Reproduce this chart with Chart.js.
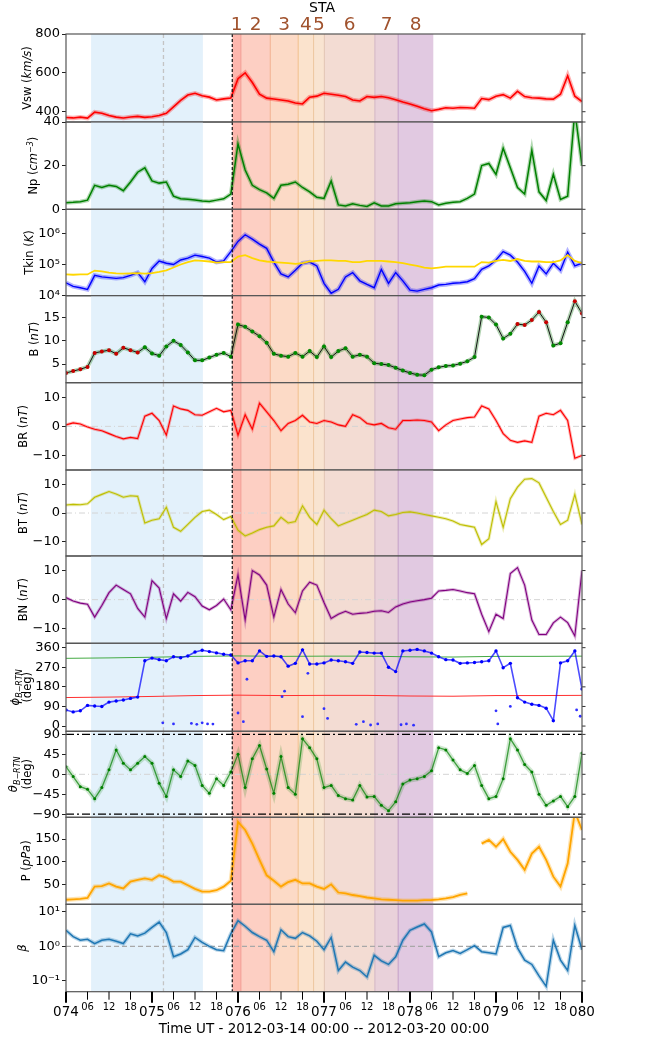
<!DOCTYPE html>
<html lang="en">
<head>
<meta charset="UTF-8">
<title>STA</title>
<script src="https://cdn.jsdelivr.net/npm/chart.js"></script>
<style>
  html, body { margin: 0; padding: 0; background: #fff; }
  #wrap { position: relative; width: 647px; height: 1041px; overflow: hidden; }
  #wrap canvas { position: absolute; left: 0; }
</style>
</head>
<body>
<div id="wrap"></div>
<script>
// hours since 2012-03-14 00:00 (DOY 074), one value every 2 h
const hours = [0,2,4,6,8,10,12,14,16,18,20,22,24,26,28,30,32,34,36,38,40,42,44,46,48,50,52,54,56,58,60,62,64,66,68,70,72,74,76,78,80,82,84,86,88,90,92,94,96,98,100,102,104,106,108,110,112,114,116,118,120,122,124,126,128,130,132,134,136,138,140,142,144];

const vsw = [370,368,372,367,398,392,380,372,368,373, 376,371,374,380,392,425,458,486,495,482,
  475,460,466,470,570,600,550,490,470,465, 460,455,445,440,475,480,495,490,485,478,
  460,455,478,474,478,472,462,450,440,428, 415,405,412,420,418,422,420,418,468,462,
  480,488,470,505,478,472,470,466,465,490, 585,480,452];

const np = [3,3.2,3.5,4.2,11,10,11,10.5,8.5,12.5, 17,19,13,12,12.5,6,4.8,4.6,4.3,3.8,
  3.6,4.2,4.8,7,30,18,11,9,7.5,5, 11,11.5,12.5,10,8,5.5,5,13,2,1.5,
  2.5,1.8,1.3,3,1.5,1.5,2.5,2.8,3,3.5, 3.8,3.5,2,2.8,3.2,3.5,5,7,20,21,
  16,28,19,10,7,27,8,4,16,4.5, 6,45,20];

const tkinObs = [2.6e4,2.0e4,1.8e4,1.6e4,4.5e4,4.0e4,3.8e4,3.6e4,3.8e4,4.5e4,
  5.5e4,2.8e4,7.5e4,1.3e5,1.1e5,1.0e5,1.4e5,1.6e5,2.0e5,1.8e5,
  1.6e5,1.2e5,1.3e5,2.6e5,5.5e5,9e5,6.5e5,4.5e5,3.3e5,1.2e5,
  5e4,4e4,6.5e4,1.1e5,1.2e5,9e4,2.5e4,1.2e4,1.6e4,4e4,
  5.5e4,3e4,2.3e4,1.8e4,7e4,2.5e4,5.5e4,3e4,1.5e4,1.4e4,
  1.6e4,1.8e4,2.2e4,2.3e4,2.5e4,2.6e4,2.8e4,3.5e4,7e4,9e4,
  1.4e5,2.6e5,2e5,1.2e5,6e4,2.5e4,9e4,5e4,1.1e5,6.5e4,
  2.5e5,9e4,1.1e5];

const tkinExp = [4.8e4,4.7e4,4.8e4,4.8e4,6.4e4,6e4,5.5e4,5.2e4,5.1e4,5.2e4,
  5.3e4,5.1e4,5.3e4,5.8e4,6.5e4,8e4,1.0e5,1.2e5,1.35e5,1.3e5,
  1.25e5,1.15e5,1.2e5,1.2e5,1.8e5,2e5,1.6e5,1.35e5,1.25e5,1.2e5,
  1.15e5,1.1e5,1.05e5,1.1e5,1.25e5,1.3e5,1.35e5,1.35e5,1.3e5,1.3e5,
  1.2e5,1.2e5,1.3e5,1.3e5,1.3e5,1.25e5,1.2e5,1.1e5,1.0e5,9e4,
  8e4,7.5e4,8e4,8.5e4,8.5e4,8.5e4,8.5e4,8.5e4,1.2e5,1.15e5,
  1.3e5,1.4e5,1.3e5,1.5e5,1.3e5,1.25e5,1.25e5,1.2e5,1.2e5,1.35e5,
  2e5,1.3e5,1.1e5];

const bMag = [3.1,3.5,3.9,4.4,7.4,7.7,8.0,7.2,8.5,8.0, 7.5,8.6,7.3,6.8,8.8,10.0,9.1,7.5,5.8,5.8,
  6.4,7.0,7.4,6.6,13.5,13.0,12.0,11.0,9.6,7.2, 6.8,6.6,7.4,6.6,7.8,6.5,8.8,6.5,7.8,8.4,
  6.6,7.0,6.6,5.2,5.0,4.8,4.2,3.6,3.1,2.7, 2.6,3.8,4.3,4.6,4.7,5.1,5.6,6.5,15.2,15.0,
  13.5,10.5,11.5,13.6,13.4,14.5,16.2,14.0,9.0,9.5, 14.0,18.5,15.9];

// field polarity of each B sample: r = outward (red dots), g = inward (green dots)
const bPolarity = ['r','r','r','r','r','r','r','r','r','r', 'r','g','g','g','g','g','g','g','g','g',
  'g','g','g','g','g','g','g','g','g','g', 'g','g','g','g','g','g','g','g','g','g',
  'g','g','g','g','g','g','g','g','g','g', 'g','g','g','g','g','g','g','g','g','g',
  'g','g','g','r','r','r','r','r','g','g', 'g','r','r'];

const bR = [0.5,1.2,0.8,-0.2,-1.0,-1.5,-2.5,-3.5,-4.3,-3.8, -4.2,3.5,4.5,2.0,-3.0,7.0,6.0,5.5,4.0,3.8,
  5.0,6.2,5.0,5.5,-3.0,4.0,-1.0,8.0,5.0,2.0, -1.5,1.0,2.0,3.8,1.5,1.0,2.0,1.5,0.5,0.0,
  4.0,3.0,1.0,0.5,1.0,-0.5,-1.0,2.0,2.0,2.2, 2.0,1.5,-1.5,0.5,2.0,2.5,3.0,3.2,7.0,6.0,
  2.0,-2.5,-4.8,-5.5,-5.0,-5.5,3.5,4.5,4.0,5.5, 2.0,-11,-10];

const bT = [2.8,3.0,2.9,3.2,5.5,6.5,7.5,6.6,5.5,6.0, 5.8,-3.5,-2.5,-2.0,2.0,-5.0,-6.4,-4.0,-1.5,0.5,
  1.0,-0.5,-2.3,-1.2,-6.0,-8.0,-7.0,-5.8,-5.0,-4.5, -1.5,-3.5,-3.0,2.5,-1.5,-4.0,1.0,-2.0,-4.5,-3.5,
  -2.5,-1.5,-0.5,1.0,0.5,-1.0,-0.5,0.2,0.4,0.0, -0.5,-1.0,-1.5,-2.0,-2.8,-4.0,-4.5,-5.0,-11,-9,
  4,-5,5,9,11.8,12.0,10.5,5.5,0.5,-4.0, -2.5,6.5,-4];

const bN = [0.7,-0.5,-1.2,-1.6,-6.0,-2.0,2.4,5.0,3.5,2.0, -3.0,-6.0,6.5,4.0,-6.5,2.0,-0.5,2.5,1.0,-2.2,
  -3.5,-2.0,0.2,-3.5,8.5,-7.0,10.0,8.5,5.0,-6.0, 3.5,-1.5,-4.5,3.0,6.0,5.0,-1.0,-6.5,-5.0,-4.0,
  -5.0,-4.7,-4.5,-4.0,-3.8,-4.4,-2.5,-1.5,-0.8,-0.4, 0.0,0.5,3.0,3.2,3.5,3.0,2.4,2.0,-5.0,-11.0,
  -5.0,-6.5,9.0,11.0,5.0,-7.0,-12.0,-12.0,-8.0,-6.0, -7.9,-12.5,10.0];

// main phi band; isolated excursions are listed separately below
const phiB = [74,65,70,95,92,90,110,115,120,127, 133,300,312,305,300,318,314,322,340,348,
  342,336,330,326,290,300,300,345,320,322, 318,275,288,350,285,285,290,303,300,295,
  288,340,338,335,335,270,250,345,348,352, 345,335,318,305,303,288,290,292,295,300,
  345,268,288,130,110,100,95,82,25,290, 300,345,170];

// scattered phi samples (excursions, and points wrapping through 0 deg)
const phiLowHours = [27,30,35,36.5,38,39.5,41,48,49.5,50.5,60.3,61,66,67.5,72,73,81,83,85,87,93.5,95,97,120,120.5,124,142.5,143.5];
const phiLow = [15,10,12,8,15,10,9,60,20,215,135,160,43,242,80,35,8,20,5,10,6,10,4,70,10,90,74,45];

// nominal Parker spiral directions
const parkerHours = [0,12,24,36,48,60,72,84,96,108,120,132,144];
const parkerAway = [311,313,316,320,322,320,321,321,318,317,320,320,321];
const parkerToward = [131,133,136,140,142,140,141,141,138,137,140,140,141];

const thetaB = [17,-5,-28,-34,-55,-30,10,55,25,10, 25,40,25,-20,-50,10,-5,30,20,-25,
  -43,-10,-25,5,45,-30,35,65,12,-43, 40,-30,-45,80,60,35,-30,-25,-48,-55,
  -58,-25,-51,-50,-70,-82,-62,-22,-13,-10, -5,8,60,55,32,10,2,20,-25,-55,
  -50,-10,80,55,22,5,-45,-70,-60,-50, -73,-50,48];

const pDyn = [16,17,18,20,45,46,52,45,41,56, 60,63,60,70,65,56,56,48,40,34,
  34,37,45,58,188,170,140,104,70,58, 45,55,60,52,52,45,40,50,32,30,
  26.5,24,21,19,17,16,15,14,14,14, 15,15.5,17,19,22,27,30,null,140,148,
  133,150,122,104,82,118,133,104,67,45, 96,210,170];

const beta = [2.9,1.9,1.5,1.6,1.2,1.5,1.6,1.4,1.2,2.3, 2.0,2.4,3.5,5.0,2.5,0.5,0.6,0.8,1.8,1.3,
  1.0,0.8,0.75,2.3,5.5,3.8,2.5,1.9,1.5,0.7, 3.0,1.9,1.7,2.5,2.0,1.4,0.8,1.8,0.2,0.35,
  0.25,0.2,0.13,0.55,0.38,0.3,0.5,1.5,2.9,3.6, 4.4,2.6,0.5,0.65,0.75,0.62,0.8,1.05,0.7,0.65,
  0.6,3.5,4.0,0.9,0.4,0.3,0.14,0.07,1.5,0.4, 0.2,4.0,0.8];

// event times (hours): shock, then boundaries of intervals 1..8
const quietInterval = [7.0, 38.2];
const dashedHour = 27.2;
const eventHours = [46.4, 48.8, 57.0, 64.8, 69.1, 72.1, 86.2, 92.7, 102.5];
const eventLabels = ['1','2','3','4','5','6','7','8'];

// tick values and labels
const vswTicks = [400, 600, 800];
const npTicks = [0, 20, 40];
const tkinTicks = [1e4, 1e5, 1e6];
const tkinLabels = ['10⁴', '10⁵', '10⁶'];
const bTicks = [5, 10, 15];
const compTicks = [-10, 0, 10];
const compLabels = ['−10', '0', '10'];
const phiTicks = [0, 90, 180, 270, 360];
const thetaTicks = [-90, -45, 0, 45, 90];
const thetaLabels = ['−90', '−45', '0', '45', '90'];
const pTicks = [50, 100, 150];
const betaTicks = [0.1, 1, 10];
const betaLabels = ['10⁻¹', '10⁰', '10¹'];
const axisHours = [0,6,12,18,24,30,36,42,48,54,60,66,72,78,84,90,96,102,108,114,120,126,132,138,144];
const axisLabels = ['074','06','12','18','075','06','12','18','076','06','12','18','077','06','12','18','078','06','12','18','079','06','12','18','080'];

// ---------------------------------------------------------------
const FONT = '"DejaVu Sans", "Liberation Sans", sans-serif';
const panelTop = [34, 122, 209.3, 295.7, 382.7, 470, 556, 643.3, 731.3, 817.3, 904.3, 991.7];
const regionFill = ['#fdb6ad', '#fdcfc3', '#fcdac6', '#fbe3cd', '#f9e4d1', '#f3dcd3', '#e9d1da', '#e1c9e1'];
const regionEdge = [null, '#f29c92', '#f2b08e', '#f2bf8c', '#eec79e', '#e2c5b3', '#d2b5c2', '#c39ec6'];

const pts = (vals, xs) => (xs || hours).map((h, i) => ({x: h, y: vals[i]}));

function line(vals, color, width, extra) {
  return Object.assign({data: pts(vals), borderColor: color, backgroundColor: color,
    borderWidth: width, pointRadius: 0, fill: false}, extra || {});
}

// thin core line plus a wide faint band, like a noisy 1-min trace
function noisy(vals, rgb, width, band) {
  return [line(vals, 'rgb(' + rgb + ')', width),
          line(vals, 'rgba(' + rgb + ',0.3)', band)];
}

function drawRich(ctx, lines, cx, cy, lh) {
  ctx.save();
  ctx.translate(cx, cy);
  ctx.rotate(-Math.PI / 2);
  ctx.fillStyle = '#000';
  ctx.textBaseline = 'alphabetic';
  const fontOf = s => (s.i ? 'italic ' : '') + (s.sub || s.sup ? '8px ' : '11.5px ') + FONT;
  lines.forEach((segs, li) => {
    let w = 0;
    segs.forEach(s => { ctx.font = fontOf(s); w += ctx.measureText(s.t).width; });
    let u = -w / 2;
    const v = (li - (lines.length - 1) / 2) * lh + 4;
    segs.forEach(s => {
      ctx.font = fontOf(s);
      ctx.fillText(s.t, u, v + (s.sub ? 3 : s.sup ? -4.5 : 0));
      u += ctx.measureText(s.t).width;
    });
  });
  ctx.restore();
}

function vline(ctx, x, a, h, color, width, dash) {
  const px = x.getPixelForValue(h);
  ctx.save();
  ctx.strokeStyle = color; ctx.lineWidth = width; ctx.setLineDash(dash || []);
  ctx.beginPath(); ctx.moveTo(px, a.top); ctx.lineTo(px, a.bottom); ctx.stroke();
  ctx.restore();
}

function decor(spec) {
  return {
    id: 'decor',
    beforeDatasetsDraw(chart) {
      const {ctx, chartArea: a, scales: {x, y}} = chart;
      ctx.save();
      ctx.beginPath(); ctx.rect(a.left, a.top, a.right - a.left, a.bottom - a.top); ctx.clip();
      const span = (h0, h1, c) => {
        const x0 = x.getPixelForValue(h0), x1 = x.getPixelForValue(h1);
        ctx.fillStyle = c; ctx.fillRect(x0, a.top, x1 - x0, a.bottom - a.top);
      };
      span(quietInterval[0], quietInterval[1], '#e3f1fb');
      for (let k = 0; k < regionFill.length; k++) span(eventHours[k], eventHours[k + 1], regionFill[k]);
      for (let k = 1; k < regionEdge.length; k++) vline(ctx, x, a, eventHours[k], regionEdge[k], 1);
      vline(ctx, x, a, dashedHour, '#c4c4c4', 1.3, [4, 3]);
      (spec.refs || []).forEach(r => {
        const py = y.getPixelForValue(r.v);
        ctx.save();
        ctx.strokeStyle = r.color; ctx.lineWidth = r.width || 1; ctx.setLineDash(r.dash || []);
        ctx.beginPath(); ctx.moveTo(a.left, py); ctx.lineTo(a.right, py); ctx.stroke();
        ctx.restore();
      });
      ctx.restore();
    },
    afterDatasetsDraw(chart) {
      const {ctx, chartArea: a, scales: {x, y}} = chart;
      vline(ctx, x, a, eventHours[0], '#111', 1.2, [3, 2]);
      ctx.save();
      // right-hand ticks
      ctx.strokeStyle = '#333'; ctx.lineWidth = 1;
      spec.ticks.forEach(t => {
        const py = y.getPixelForValue(t);
        ctx.beginPath(); ctx.moveTo(a.right, py); ctx.lineTo(a.right + 3.5, py); ctx.stroke();
      });
      // frame
      ctx.strokeStyle = '#555'; ctx.lineWidth = 1.2;
      ctx.strokeRect(a.left, a.top, a.right - a.left, a.bottom - a.top);
      ctx.restore();
      drawRich(ctx, spec.title, spec.titleX, (a.top + a.bottom) / 2, spec.titleGap || 13);
      if (spec.extra) spec.extra(chart);
    }
  };
}

function makePanel(i, spec) {
  const top = panelTop[i], bot = panelTop[i + 1];
  const cTop = i === 0 ? 0 : Math.floor(top - 10);
  const cBot = i === 10 ? 1041 : Math.ceil(bot + 10);
  const cv = document.createElement('canvas');
  cv.width = 647; cv.height = cBot - cTop;
  cv.style.top = cTop + 'px';
  document.getElementById('wrap').appendChild(cv);
  return new Chart(cv, {
    type: 'line',
    data: {datasets: spec.datasets},
    options: {
      responsive: false, animation: false, devicePixelRatio: 1,
      layout: {padding: {top: top - cTop, bottom: cBot - bot, left: 0, right: 65}},
      plugins: {legend: {display: false}, tooltip: {enabled: false}},
      elements: {line: {tension: 0}},
      scales: {
        x: {type: 'linear', min: 0, max: 144, display: false},
        y: {
          type: spec.log ? 'logarithmic' : 'linear',
          min: spec.min, max: spec.max,
          afterFit: s => { s.width = 66; },
          afterBuildTicks: s => { s.ticks = spec.ticks.map(v => ({value: v})); },
          ticks: {
            autoSkip: false, padding: 2, color: '#000',
            font: {family: FONT, size: 13},
            callback: (v, idx) => spec.labels ? spec.labels[idx] : String(spec.ticks[idx])
          },
          grid: {drawOnChartArea: false, tickLength: 4, tickColor: '#222', tickWidth: 1},
          border: {display: false}
        }
      }
    },
    plugins: [decor(spec)]
  });
}

const zeroRef = {v: 0, color: '#d4d4d4', width: 1, dash: [6, 3, 1, 3]};

// 1 Vsw
makePanel(0, {
  min: 347, max: 800, ticks: vswTicks, titleX: 27,
  title: [[{t: 'Vsw ('}, {t: 'km/s', i: 1}, {t: ')'}]],
  datasets: noisy(vsw, '255,0,0', 1.6, 4.5),
  extra: chart => {
    const {ctx, scales: {x}} = chart;
    ctx.save();
    ctx.fillStyle = '#000'; ctx.textAlign = 'center'; ctx.textBaseline = 'middle';
    ctx.font = '14px ' + FONT;
    ctx.fillText('STA', 322, 8.5);
    ctx.fillStyle = '#a0522d'; ctx.font = '18.5px ' + FONT;
    eventLabels.forEach((lab, k) => {
      const px = (x.getPixelForValue(eventHours[k]) + x.getPixelForValue(eventHours[k + 1])) / 2;
      ctx.fillText(lab, px, 25);
    });
    ctx.restore();
  }
});

// 2 Np
makePanel(1, {
  min: 0, max: 40, ticks: npTicks, titleX: 33,
  title: [[{t: 'Np ('}, {t: 'cm', i: 1}, {t: '−3', i: 1, sup: 1}, {t: ')'}]],
  datasets: noisy(np, '0,128,0', 1.5, 4)
});

// 3 Tkin
makePanel(2, {
  log: true, min: 1e4, max: 5.9e6, ticks: tkinTicks, labels: tkinLabels, titleX: 29,
  title: [[{t: 'Tkin ('}, {t: 'K', i: 1}, {t: ')'}]],
  datasets: [line(tkinExp, '#ffd700', 1.8)].concat(noisy(tkinObs, '0,0,255', 1.4, 4.5)),
  extra: chart => {
    const ctx = chart.ctx;
    ctx.save();
    ctx.font = '8px ' + FONT; ctx.textBaseline = 'middle'; ctx.fillStyle = '#222';
    ctx.lineWidth = 1;
    ctx.strokeStyle = '#6a6aff';
    ctx.beginPath(); ctx.moveTo(588, 215); ctx.lineTo(603, 215); ctx.stroke();
    ctx.fillText('Obs. Tkin', 610, 215);
    ctx.strokeStyle = '#ffe040';
    ctx.beginPath(); ctx.moveTo(588, 227.5); ctx.lineTo(603, 227.5); ctx.stroke();
    ctx.fillText('Exp. Tkin', 610, 227.5);
    ctx.restore();
  }
});

// 4 |B|
makePanel(3, {
  min: 1, max: 19.7, ticks: bTicks, titleX: 34,
  title: [[{t: 'B ('}, {t: 'nT', i: 1}, {t: ')'}]],
  datasets: [line(bMag, '#111', 1, {pointRadius: 2, pointBorderWidth: 0,
    pointBackgroundColor: bPolarity.map(c => c === 'r' ? '#c80000' : '#008a00')}),
    line(bMag, 'rgba(0,110,0,0.3)', 4)]
});

// 5-7 components
makePanel(4, {
  min: -15, max: 15, ticks: compTicks, labels: compLabels, titleX: 23, refs: [zeroRef],
  title: [[{t: 'BR ('}, {t: 'nT', i: 1}, {t: ')'}]],
  datasets: noisy(bR, '255,0,0', 1.1, 3)
});
makePanel(5, {
  min: -15, max: 15, ticks: compTicks, labels: compLabels, titleX: 23, refs: [zeroRef],
  title: [[{t: 'BT ('}, {t: 'nT', i: 1}, {t: ')'}]],
  datasets: noisy(bT, '191,191,0', 1.1, 3)
});
makePanel(6, {
  min: -15, max: 15, ticks: compTicks, labels: compLabels, titleX: 23, refs: [zeroRef],
  title: [[{t: 'BN ('}, {t: 'nT', i: 1}, {t: ')'}]],
  datasets: noisy(bN, '128,0,128', 1.1, 3)
});

// 8 phi
makePanel(7, {
  min: -24, max: 380, ticks: phiTicks, titleX: 21, titleGap: 12,
  title: [[{t: 'ϕ', i: 1}, {t: 'B−RTN', i: 1, sub: 1}], [{t: '(deg)'}]],
  datasets: [
    line(phiB, 'rgba(0,0,255,0.7)', 1.6, {pointRadius: 1.7, pointBackgroundColor: '#0000ff', pointBorderWidth: 0}),
    {data: pts(phiLow, phiLowHours), showLine: false, pointRadius: 1.4, pointBackgroundColor: '#3030ff', pointBorderWidth: 0},
    {data: pts(parkerAway, parkerHours), borderColor: '#44aa44', borderWidth: 1, pointRadius: 0},
    {data: pts(parkerToward, parkerHours), borderColor: '#ff3030', borderWidth: 1, pointRadius: 0}
  ]
});

// 9 theta
makePanel(8, {
  min: -97, max: 97, ticks: thetaTicks, labels: thetaLabels, titleX: 20, titleGap: 14,
  refs: [zeroRef, {v: 90, color: '#000', width: 1.3, dash: [8, 3, 2, 3]}, {v: -90, color: '#000', width: 1.3, dash: [8, 3, 2, 3]}],
  title: [[{t: 'θ', i: 1}, {t: 'B−RTN', i: 1, sub: 1}], [{t: '(deg)'}]],
  datasets: [line(thetaB, 'rgba(0,128,0,0.7)', 1.3, {pointRadius: 1.5, pointBackgroundColor: '#008000', pointBorderWidth: 0}),
             line(thetaB, 'rgba(0,128,0,0.18)', 5)]
});

// 10 dynamic pressure
makePanel(9, {
  min: 6, max: 198, ticks: pTicks, titleX: 26,
  title: [[{t: 'P ('}, {t: 'pPa', i: 1}, {t: ')'}]],
  datasets: noisy(pDyn, '255,165,0', 1.8, 4.5)
});

// 11 plasma beta + time axis
makePanel(10, {
  log: true, min: 0.049, max: 16.3, ticks: betaTicks, labels: betaLabels, titleX: 22,
  refs: [{v: 1, color: '#a8a8a8', width: 1.2, dash: [5, 3]}],
  title: [[{t: 'β', i: 1}]],
  datasets: noisy(beta, '31,119,180', 1.5, 4),
  extra: chart => {
    const {ctx, chartArea: a, scales: {x}} = chart;
    ctx.save();
    ctx.fillStyle = '#000'; ctx.strokeStyle = '#000';
    ctx.textAlign = 'center'; ctx.textBaseline = 'middle';
    axisHours.forEach((h, k) => {
      const px = x.getPixelForValue(h);
      const major = h % 24 === 0;
      ctx.lineWidth = major ? 2 : 1;
      ctx.beginPath(); ctx.moveTo(px, a.bottom); ctx.lineTo(px, a.bottom + (major ? 11 : 8)); ctx.stroke();
      ctx.font = (major ? '13.5px ' : '10px ') + FONT;
      ctx.fillText(axisLabels[k], px, a.bottom + (major ? 21 : 16));
    });
    ctx.font = '13.5px ' + FONT;
    ctx.fillText('Time UT - 2012-03-14 00:00 -- 2012-03-20 00:00', (a.left + a.right) / 2, a.bottom + 37.5);
    ctx.restore();
  }
});
</script>
</body>
</html>
